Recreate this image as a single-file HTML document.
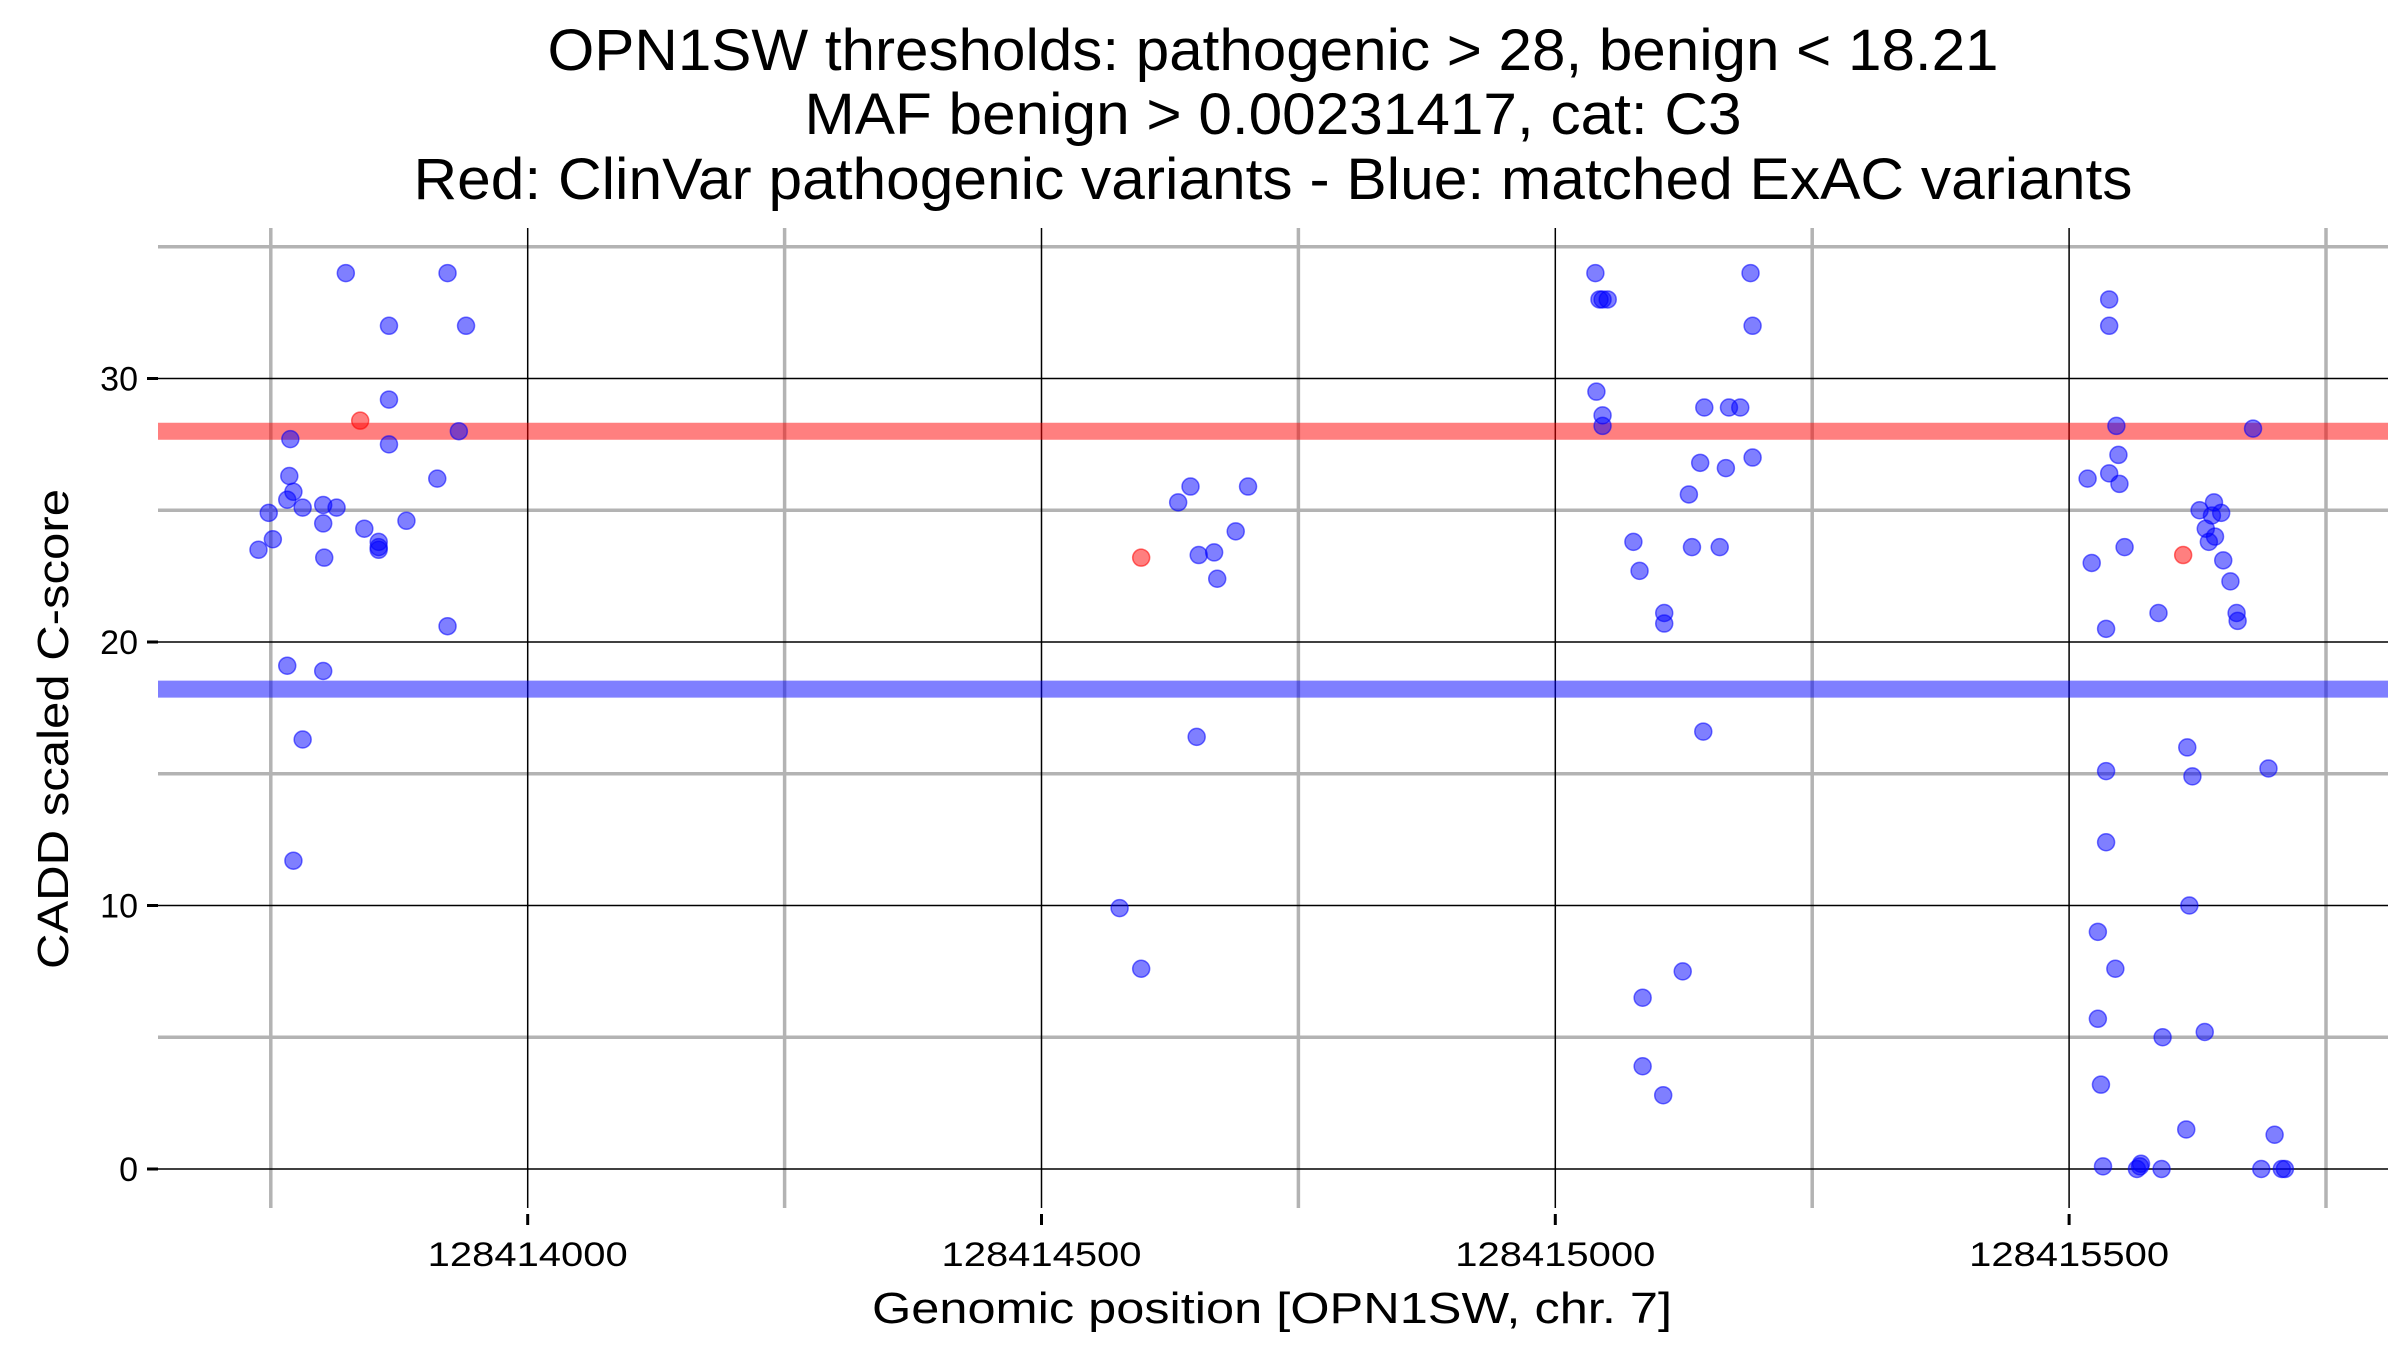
<!DOCTYPE html>
<html><head><meta charset="utf-8">
<style>
html,body{margin:0;padding:0;background:#fff;}
svg{display:block;font-family:"Liberation Sans",Arial,sans-serif;}
</style></head>
<body>
<svg id="chart" width="2400" height="1350" viewBox="0 0 2400 1350" xmlns="http://www.w3.org/2000/svg">
  <g text-anchor="middle" font-size="58" fill="#000">
    <text x="1273" y="70" textLength="1451" lengthAdjust="spacingAndGlyphs">OPN1SW thresholds: pathogenic &gt; 28, benign &lt; 18.21</text>
    <text x="1273" y="134" textLength="937" lengthAdjust="spacingAndGlyphs">MAF benign &gt; 0.00231417, cat: C3</text>
    <text x="1273" y="199" textLength="1719" lengthAdjust="spacingAndGlyphs">Red: ClinVar pathogenic variants - Blue: matched ExAC variants</text>
  </g>
  <g id="grid"></g>
  <g id="thresholds"></g>
  <g id="points"></g>
  <g id="axes"></g>
  <text transform="translate(68,729) rotate(-90)" text-anchor="middle" font-size="44" textLength="480" lengthAdjust="spacingAndGlyphs">CADD scaled C-score</text>
  <text x="1272" y="1323" text-anchor="middle" font-size="44" textLength="800" lengthAdjust="spacingAndGlyphs">Genomic position [OPN1SW, chr. 7]</text>
</svg>
<script>
const benignPos = [128413738,128413748,128413752,128413766,128413768,128413769,128413766,128413772,128413772,128413781,128413781,128413801,128413801,128413802,128413801,128413814,128413823,128413841,128413855,128413855,128413855,128413865,128413865,128413865,128413882,128413912,128413922,128413922,128413933,128413940,
128414576,128414597,128414633,128414645,128414651,128414653,128414668,128414671,128414689,128414701,
128415039,128415040,128415043,128415046,128415051,128415046,128415046,128415076,128415082,128415085,128415085,128415106,128415106,128415105,128415124,128415130,128415133,128415141,128415144,128415145,128415160,128415166,128415169,128415180,128415190,128415192,128415192,
128415518,128415522,128415528,128415528,128415531,128415533,128415536,128415536,128415536,128415539,128415539,128415539,128415546,128415548,128415545,128415549,128415554,128415566,128415569,128415570,128415587,128415590,128415591,128415614,128415615,128415617,128415620,128415627,128415632,128415633,128415636,128415641,128415639,128415642,128415648,128415650,128415657,128415663,128415664,128415679,128415694,128415700,128415687,128415707,128415710];
const benignScore = [23.5,24.9,23.9,25.4,26.3,27.7,19.1,25.7,11.7,16.3,25.1,25.2,24.5,23.2,18.9,25.1,34,24.3,23.8,23.6,23.5,29.2,32,27.5,24.6,26.2,34,20.6,28,32,
9.9,7.6,25.3,25.9,16.4,23.3,23.4,22.4,24.2,25.9,
34,29.5,33,33,33,28.6,28.2,23.8,22.7,6.5,3.9,21.1,20.7,2.8,7.5,25.6,23.6,26.8,16.6,28.9,23.6,26.6,28.9,28.9,34,32,27.0,
26.2,23,9,5.7,3.2,0.1,20.5,15.1,12.4,33,32,26.4,28.2,27.1,7.6,26,23.6,0,0.1,0.2,21.1,0,5,1.5,16,10,14.9,25,5.2,24.3,23.8,25.3,24.8,24,24.9,23.1,22.3,21.1,20.8,28.1,15.2,1.3,0,0,0];
const pathoPos = [128413837,128414597,128415611];
const pathoScore = [28.4,23.2,23.3];
const thresholdValues = [28, 18.21];
const xTickValues = [128414000,128414500,128415000,128415500];
const xTickLabels = ["128414000","128414500","128415000","128415500"];
const xMinorValues = [128413750,128414250,128414750,128415250,128415750];
const yTickValues = [0,10,20,30];
const yTickLabels = ["0","10","20","30"];
const yMinorValues = [5,15,25,35];

const NS = "http://www.w3.org/2000/svg";
const L = 158, R = 2388, T = 236, B = 1208;
function xs(v){ return 527.7 + (v - 128414000) * (513.8/500); }
function ys(v){ return 1169 - v * 26.35; }
function mk(tag, attrs, parent){
  const e = document.createElementNS(NS, tag);
  for (const k in attrs) e.setAttribute(k, attrs[k]);
  parent.appendChild(e); return e;
}
const grid = document.getElementById('grid');
yMinorValues.forEach(v => {
  const l = mk('line', {x1:L, x2:R, y1:ys(v), y2:ys(v), stroke:'#b3b3b3', 'stroke-width':3.5}, grid);
  
  
});
xMinorValues.forEach(v => {
  const l = mk('line', {x1:xs(v), x2:xs(v), y1:T-8, y2:B, stroke:'#b3b3b3', 'stroke-width':3.5}, grid);
  
  
});
yTickValues.forEach(v => {
  const l = mk('line', {x1:L, x2:R, y1:ys(v), y2:ys(v), stroke:'#000', 'stroke-width':1.5}, grid);
  
  
});
xTickValues.forEach(v => {
  const l = mk('line', {x1:xs(v), x2:xs(v), y1:T-8, y2:B, stroke:'#000', 'stroke-width':1.5}, grid);
  
  
});
const th = document.getElementById('thresholds');
const thColors = ['rgba(255,0,0,0.5)','rgba(0,0,255,0.5)'];
thresholdValues.forEach((v,i) => {
  const l = mk('line', {x1:L, x2:R, y1:ys(v), y2:ys(v), stroke:thColors[i], 'stroke-width':17}, th);
  
  
});
const pts = document.getElementById('points');
benignPos.forEach((p,i) => {
  const c = mk('circle', {cx:xs(p), cy:ys(benignScore[i]), r:8.5, fill:'rgba(0,0,255,0.5)', stroke:'rgba(0,0,255,0.55)', 'stroke-width':1.5}, pts);
  
  
});
pathoPos.forEach((p,i) => {
  const c = mk('circle', {cx:xs(p), cy:ys(pathoScore[i]), r:8.5, fill:'rgba(255,0,0,0.5)', stroke:'rgba(255,0,0,0.55)', 'stroke-width':1.5}, pts);
  
  
});
const ax = document.getElementById('axes');
yTickValues.forEach((v,i) => {
  const t = mk('line', {x1:L-11, x2:L, y1:ys(v), y2:ys(v), stroke:'#000', 'stroke-width':3}, ax);
  
  
  const lb = mk('text', {x:L-20, y:ys(v)+12, 'text-anchor':'end', 'font-size':34}, ax);
  lb.textContent = yTickLabels[i];
  
  
});
xTickValues.forEach((v,i) => {
  const t = mk('line', {x1:xs(v), x2:xs(v), y1:B+6, y2:B+17, stroke:'#000', 'stroke-width':3}, ax);
  
  
  const lb = mk('text', {x:xs(v), y:B+58, 'text-anchor':'middle', 'font-size':34, textLength:200, lengthAdjust:'spacingAndGlyphs'}, ax);
  lb.textContent = xTickLabels[i];
  
  
});
</script>
</body></html>
